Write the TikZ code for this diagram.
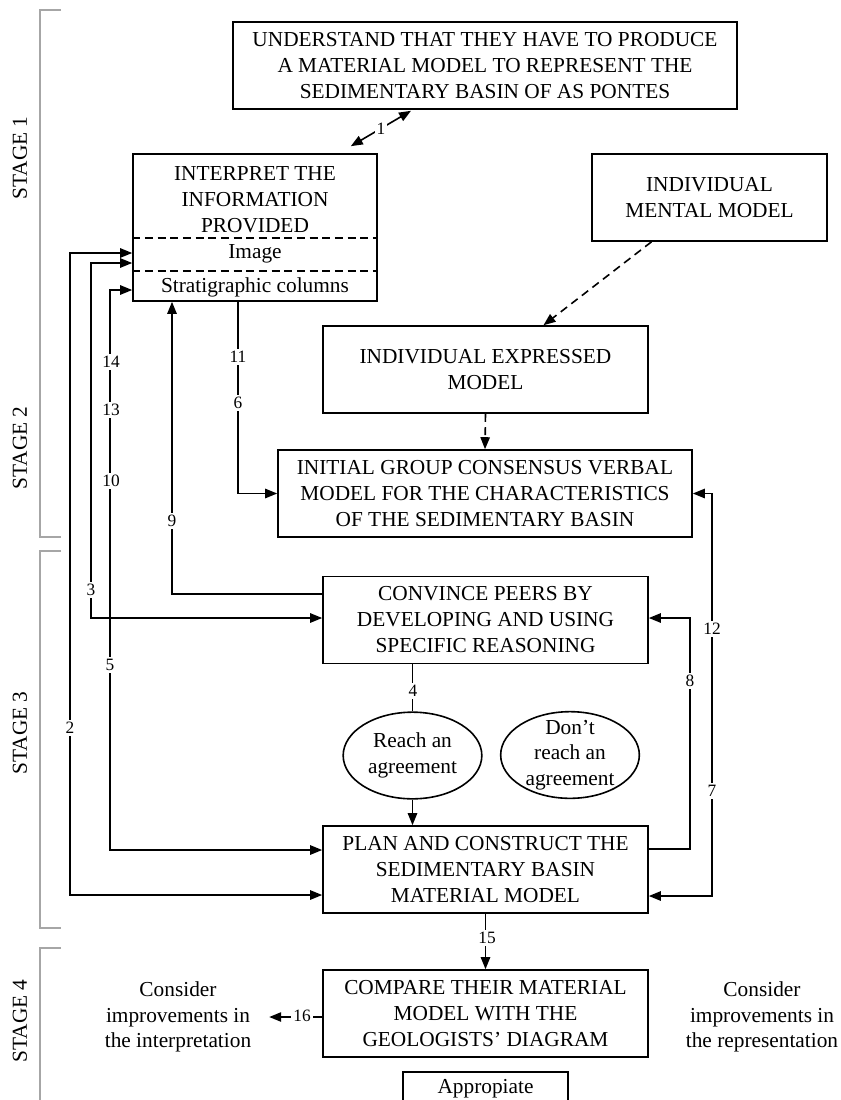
\documentclass[tikz,border=0pt]{standalone}
\usepackage{fontspec}
\setmainfont{Liberation Serif}
\usepackage{tikz}
\usetikzlibrary{arrows.meta,shapes,positioning,calc}
\tikzset{
  sbbox/.style={
    rectangle, draw=black, fill=white, line width=1.2pt,
    minimum height=65.25pt, inner sep=2pt, align=center,
    font=\fontsize{16}{19.5}\selectfont
  },
  sbagree/.style={
    ellipse, draw=black, line width=1.2pt,
    minimum width=104pt, minimum height=65pt, inner sep=0pt, align=center,
    font=\fontsize{16}{19}\selectfont
  },
  sbedge/.style={->,>={Triangle[length=9pt,width=7pt]},line width=1.2pt},
  sbdashed/.style={sbedge,dash pattern=on 6pt off 4pt},
  sbdivider/.style={line width=1pt,dash pattern=on 6pt off 3.5pt},
  sblabel/.style={font=\fontsize{13}{15}\selectfont,fill=white,inner sep=1.5pt},
  sbnote/.style={align=center,font=\fontsize{16}{19}\selectfont},
  sbstage/.style={rotate=90,font=\fontsize{16}{19}\selectfont},
  sbbracket/.style={draw=black!35,line width=1.2pt}
}

\begin{document}
\begin{tikzpicture}[x=0.75pt,y=-0.75pt]
  \useasboundingbox (0,0) rectangle (841,1100);
  \clip (0,0) rectangle (841,1100);
  % stage brackets
  \draw[sbbracket] (61,10) -| (40,537) -- (61,537);
  \draw[sbbracket] (61,551) -| (40,928) -- (61,928);
  \draw[sbbracket] (61,948) -| (40,1110);
  \node[sbstage] (st1) at (20,158) {STAGE 1};
  \node[sbstage] (st2) at (20,448) {STAGE 2};
  \node[sbstage] (st3) at (20,733) {STAGE 3};
  \node[sbstage] (st4) at (20,1021) {STAGE 4};
  % boxes
  \node[sbbox,minimum width=378pt] (understand) at (485,65.5) {UNDERSTAND THAT THEY HAVE TO PRODUCE\\A MATERIAL MODEL TO REPRESENT THE\\SEDIMENTARY BASIN OF AS PONTES};
  \node[sbbox,minimum width=183pt,minimum height=110.25pt] (interp) at (255,227.5) {\rule{0pt}{17pt}INTERPRET THE\\INFORMATION\\PROVIDED\\Image\\[6pt]Stratigraphic columns};
  \node[sbbox,minimum width=176.25pt] (mental) at (709.5,197.5) {INDIVIDUAL\\MENTAL MODEL};
  \node[sbbox,minimum width=243.75pt] (expressed) at (485.5,369.5) {INDIVIDUAL EXPRESSED\\MODEL};
  \node[sbbox,minimum width=310.5pt] (group) at (485,493.5) {INITIAL GROUP CONSENSUS VERBAL\\MODEL FOR THE CHARACTERISTICS\\OF THE SEDIMENTARY BASIN};
  \node[sbbox,minimum width=243.75pt] (convince) at (485.5,620) {CONVINCE PEERS BY\\DEVELOPING AND USING\\SPECIFIC REASONING};
  \node[sbagree] (reach) at (412.5,755.5) {Reach an\\agreement};
  \node[sbagree,inner sep=-6pt] (noreach) at (570,755) {Don’t\\reach an\\agreement};
  \node[sbbox,minimum width=243.75pt] (plan) at (485.5,869.5) {PLAN AND CONSTRUCT THE\\SEDIMENTARY BASIN\\MATERIAL MODEL};
  \node[sbbox,minimum width=243.75pt] (compare) at (485.5,1013.5) {COMPARE THEIR MATERIAL\\MODEL WITH THE\\GEOLOGISTS’ DIAGRAM};
  \node[sbbox,minimum width=123.75pt,minimum height=25.5pt] (approp) at (485.5,1089) {Appropiate};
  \node[sbnote] (interpnote) at (178,1017) {Consider\\improvements in\\the interpretation};
  \node[sbnote] (reprnote) at (762,1017) {Consider\\improvements in\\the representation};
  \draw[sbdivider] (interp.west |- 0,238) -- (interp.east |- 0,238);
  \draw[sbdivider] (interp.west |- 0,271) -- (interp.east |- 0,271);
  % stage 1 and 2
  \draw[sbedge,<->] ($(interp.north east)+(-27,-7)$) -- node[sblabel] (l1) {1} ($(understand.south)+(-74,1)$);
  \draw[sbdashed] ($(mental.south)+(-58,0)$) -- ($(expressed.north)+(58,0)$);
  \draw[sbdashed] (expressed.south) -- (group.north);
  \draw[sbedge] (interp.south -| 238,0) |- (group.west);
  % back to the information
  \draw[sbedge,<->] (interp.west |- 0,253) -| (70,895) -- (plan.west |- 0,895);
  \draw[sbedge,<->] (interp.west |- 0,263) -| (91,618) -- (convince.west |- 0,618);
  \draw[sbedge,<->] (interp.west |- 0,290) -| (110,850) -- (plan.west |- 0,850);
  \draw[sbedge] (convince.west |- 0,594) -| (interp.south -| 172,0);
  % stage 3
  \draw[sbedge,-] (convince.south -| reach.north) -- (reach.north);
  \draw[sbedge] (reach.south) -- (plan.north -| reach.south);
  \draw[sbedge] (plan.east |- 0,849) -| (690,618) -- (convince.east |- 0,618);
  \draw[sbedge,<->] (group.east) -| (712,896) -- (plan.east |- 0,896);
  % stage 4
  \draw[sbedge] (plan.south) -- (compare.north);
  \draw[sbedge,shorten >=10pt] (compare.west |- interpnote.east) -- (interpnote.east);
  % numbers
  \node[sblabel] (l11) at (238,357) {11};
  \node[sblabel] (l6) at (238,403) {6};
  \node[sblabel] (l14) at (111,362) {14};
  \node[sblabel] (l13) at (111,410) {13};
  \node[sblabel] (l10) at (111,481) {10};
  \node[sblabel] (l5) at (110,665) {5};
  \node[sblabel] (l9) at (172,521) {9};
  \node[sblabel] (l3) at (91,590) {3};
  \node[sblabel] (l2) at (70,728) {2};
  \node[sblabel] (l4) at (413,691) {4};
  \node[sblabel] (l8) at (690,681) {8};
  \node[sblabel] (l12) at (712,629) {12};
  \node[sblabel] (l7) at (712,791) {7};
  \node[sblabel] (l15) at (487,938) {15};
  \node[sblabel] (l16) at (302,1016) {16};
\end{tikzpicture}
\end{document}
